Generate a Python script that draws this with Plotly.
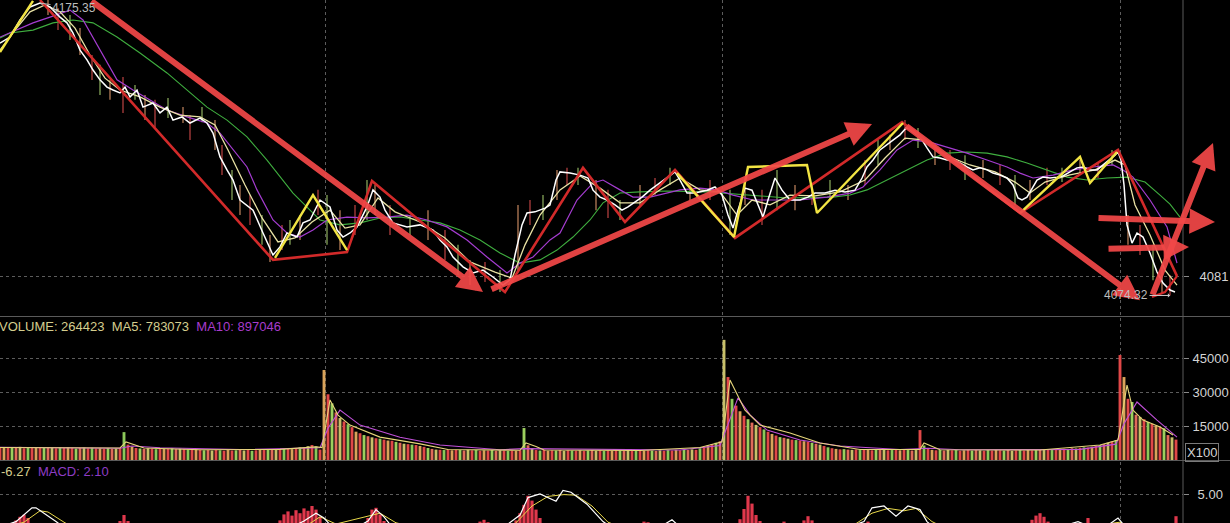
import plotly.graph_objects as go

W, H = 1230, 523
X_END = 1183 / W
X_RANGE = [0, 295.75]
PRICE_DOMAIN = [1 - 316 / H, 1.0]
PRICE_RANGE = [4067.22, 4176.4]
VOL_DOMAIN = [1 - 460 / H, 1 - 318 / H]
VOL_RANGE = [0, 62650]
MACD_DOMAIN = [0, 1 - 462 / H]
MACD_RANGE = [0.167, 10.333]
DAY_BREAKS = [81.25, 180.5, 280]

# ---------------- price (bar index -> price) ----------------
close_t = [0, 2.5, 5, 7.5, 10, 12.5, 15, 16.75, 18.25, 20,
           21.75, 23.25, 25, 26.75, 28.25, 30, 31.25, 32.5, 34.25, 35.75,
           38.25, 40, 41.75, 43.25, 45.5, 47.5, 50, 51.75, 53.25, 55,
           56.75, 58.25, 60, 63.25, 65.75, 68.25, 70, 71.75, 74.25, 75.75,
           77.5, 80, 82.5, 84.25, 85.75, 87.5, 89.25, 91.75, 93.25, 95,
           96.25, 98.25, 101.75, 105, 108.25, 110, 111.75, 113.25, 115.75, 118.25,
           120.75, 123.25, 125.75, 127.5, 128.75, 130.5, 131.75, 133.75, 136.25, 137.5,
           139, 140, 142.5, 145, 147, 148.25, 150, 151.75, 153.75, 155.5,
           157, 158.75, 160.5, 162.5, 165, 167, 168.75, 170, 171.75, 173.75,
           176.75, 178.75, 180.5, 182, 183.25, 184.5, 186.25, 188, 189.5, 190.75,
           192, 193.75, 195.5, 197.5, 200, 202, 203.75, 206.25, 208.75, 211.25,
           213.75, 215.5, 216.75, 218.25, 220, 221.75, 223.25, 225, 226.75, 228.25,
           230, 231.75, 233.25, 235, 236.75, 238.25, 240, 241.75, 243.25, 245,
           246.75, 248.25, 250, 251.75, 253.25, 254.5, 255.5, 256.75, 258, 259.25,
           260.75, 262.5, 264.25, 265.75, 267.5, 269.25, 270.75, 272.5, 274.25, 275.75,
           277.5, 278.75, 279.5, 280.25, 281, 281.75, 283, 284.25, 285.75, 287.5,
           289.25, 290.75, 292.5, 293.75]
close_p = [4161.5, 4163.6, 4169.5, 4174.0, 4175.35, 4174.0, 4170.5, 4168.5, 4165.0, 4159.1,
           4155.7, 4152.2, 4148.8, 4146.3, 4145.3, 4144.3, 4146.3, 4142.9, 4145.3, 4139.4,
           4140.8, 4137.4, 4139.4, 4134.9, 4136.0, 4133.9, 4135.6, 4133.9, 4130.4, 4122.2,
           4117.7, 4114.2, 4107.3, 4103.8, 4095.9, 4088.3, 4091.1, 4095.9, 4094.5, 4099.4,
           4100.4, 4107.3, 4104.9, 4096.9, 4094.5, 4095.9, 4098.0, 4104.9, 4110.8, 4108.3,
           4103.8, 4099.4, 4098.0, 4098.7, 4096.9, 4093.5, 4091.1, 4087.6, 4084.2, 4082.1,
           4083.1, 4080.7, 4077.9, 4079.7, 4088.3, 4098.7, 4102.8, 4103.2, 4104.5, 4105.6,
           4114.2, 4117.0, 4116.6, 4115.9, 4114.9, 4110.7, 4108.3, 4107.3, 4105.6, 4103.8,
           4104.9, 4106.6, 4108.3, 4110.7, 4113.2, 4115.2, 4117.0, 4114.2, 4109.7, 4109.7,
           4110.7, 4111.8, 4109.0, 4102.1, 4097.6, 4103.8, 4111.4, 4110.7, 4105.6, 4101.4,
           4107.3, 4114.9, 4110.7, 4107.3, 4107.3, 4108.3, 4109.7, 4109.7, 4110.7, 4110.1,
           4110.7, 4114.9, 4118.7, 4121.1, 4124.6, 4126.3, 4128.0, 4129.8, 4132.5, 4130.8,
           4129.1, 4125.3, 4122.2, 4121.8, 4121.1, 4121.1, 4120.1, 4118.7, 4117.7, 4118.4,
           4117.7, 4116.6, 4115.9, 4114.9, 4112.5, 4108.0, 4107.3, 4108.3, 4111.4, 4114.2,
           4115.2, 4114.9, 4115.2, 4115.6, 4117.0, 4118.4, 4118.7, 4117.7, 4117.7, 4119.4,
           4121.1, 4122.8, 4123.9, 4121.1, 4112.5, 4098.7, 4092.4, 4095.9, 4094.5, 4089.0,
           4082.4, 4078.6, 4076.2, 4075.5]

# high / low wicks of selected bars
wick_t = [12, 14.5, 17.5, 20, 23, 25, 27.5, 30.75, 33.75, 36.25,
          38.75, 42, 45.75, 47.5, 50.5, 53.75, 55.5, 58, 60, 62.5,
          65.5, 67.5, 70.5, 72.5, 75, 79.5, 81.75, 85, 88.75, 91.75,
          93.75, 97.5, 102.5, 107, 111.25, 114.5, 117.5, 121.25, 125, 129.5,
          132.5, 135.75, 139.25, 141.75, 144.5, 149, 152, 155, 160, 163.75,
          167.5, 172.5, 177.5, 182.5, 186.25, 190.5, 194.25, 198.75, 203, 207.5,
          212, 216.25, 219.5, 222.5, 226.25, 229.5, 233.75, 237.5, 241.25, 245.75,
          250, 253.75, 257.5, 261.75, 265.5, 270, 274.5, 278, 282, 285,
          288.25, 290.5, 292.5]
wick_high = [4176.4, 4173.6, 4171.2, 4166.7, 4157.4, 4154.0, 4148.8, 4149.8, 4147.0, 4143.6,
             4141.9, 4142.5, 4139.4, 4136.6, 4139.4, 4134.9, 4126.3, 4117.7, 4112.5, 4109.0,
             4102.1, 4095.2, 4098.7, 4100.4, 4102.1, 4110.8, 4109.0, 4103.8, 4105.6, 4114.2,
             4112.5, 4105.6, 4102.1, 4103.8, 4096.9, 4091.8, 4086.6, 4085.9, 4083.1, 4105.6,
             4107.3, 4109.0, 4117.7, 4118.4, 4118.4, 4114.2, 4110.8, 4107.3, 4112.5, 4114.9,
             4118.4, 4112.5, 4114.2, 4110.8, 4114.2, 4110.8, 4117.7, 4112.5, 4112.5, 4114.2,
             4112.5, 4121.1, 4128.0, 4129.8, 4134.9, 4132.2, 4126.3, 4124.6, 4122.8, 4121.1,
             4119.4, 4115.9, 4114.2, 4118.4, 4118.4, 4121.1, 4120.4, 4124.6, 4102.1, 4098.7,
             4091.8, 4084.9, 4081.4]
wick_low = [4171.2, 4166.0, 4162.6, 4157.4, 4148.8, 4143.6, 4141.9, 4137.4, 4141.9, 4134.9,
            4132.5, 4135.6, 4133.9, 4128.0, 4134.2, 4124.6, 4115.9, 4107.3, 4102.1, 4098.7,
            4091.8, 4085.9, 4090.0, 4091.8, 4093.5, 4102.1, 4091.8, 4090.0, 4095.2, 4100.4,
            4102.1, 4095.2, 4095.2, 4093.5, 4086.6, 4081.4, 4077.9, 4079.0, 4075.5, 4083.1,
            4098.7, 4100.4, 4107.3, 4112.5, 4112.5, 4103.8, 4101.1, 4100.4, 4105.6, 4109.0,
            4112.5, 4107.3, 4107.3, 4095.2, 4105.6, 4098.7, 4103.8, 4103.8, 4105.6, 4107.3,
            4107.3, 4112.5, 4119.4, 4124.6, 4128.0, 4125.3, 4119.4, 4117.7, 4114.2, 4114.9,
            4112.5, 4105.6, 4107.3, 4112.5, 4113.5, 4115.9, 4114.9, 4119.4, 4091.8, 4088.3,
            4079.6, 4075.2, 4074.32]

# moving averages on price
ma5_t = [0, 3.75, 7.5, 11.25, 15, 18.75, 22.5, 26.25, 30, 35, 40, 45, 50, 53.75, 57, 61.25,
         65.5, 69.5, 73.75, 78, 82.5, 86.25, 90, 94.5, 98.75, 105, 111.25, 117.5, 123.75, 128,
         131.25, 135, 140, 145, 150, 155, 160, 165, 170, 175, 180, 184.25, 188, 192.5, 197.5,
         203.75, 210, 216.25, 221.25, 226.25, 231.25, 236.25, 242.5, 248.75, 253.75, 257.5,
         261.25, 267.5, 273.75, 278.75, 281.25, 283.75, 287.5, 291.25, 294.25]
ma5_p = [4159.1, 4166.0, 4172.3, 4174.7, 4172.3, 4166.7, 4157.4, 4149.4, 4145.3, 4142.9,
         4139.4, 4136.6, 4136.0, 4133.2, 4124.6, 4112.5, 4101.1, 4092.8, 4094.2, 4099.7,
         4103.8, 4097.6, 4098.7, 4108.0, 4103.2, 4099.7, 4094.2, 4085.9, 4082.4, 4080.3,
         4091.8, 4102.1, 4110.8, 4115.6, 4111.4, 4106.3, 4106.3, 4110.8, 4114.9, 4110.8,
         4110.1, 4102.1, 4107.3, 4105.6, 4109.0, 4108.7, 4110.1, 4114.2, 4121.8, 4128.7,
         4128.0, 4122.8, 4119.4, 4117.0, 4113.5, 4109.7, 4113.5, 4116.0, 4117.7, 4121.1,
         4119.4, 4105.6, 4095.2, 4083.1, 4077.9]

ma20_t = [0, 8.25, 12.5, 17.5, 20.75, 25, 29.25, 33.25, 37.5, 41.75, 46.75, 51.75, 55, 58.25,
          61.75, 64.25, 68.25, 71.75, 75, 78.25, 81.75, 86.75, 91.75, 96.75, 101.75, 106.75,
          111.75, 116.75, 121.75, 126.75, 130, 133.25, 137.5, 140, 144.25, 148.25, 150.75, 155,
          158.25, 162.5, 166.75, 170, 175, 179.25, 183.25, 188.25, 193.25, 200, 206.75, 212.5,
          215.75, 220, 224.25, 228.25, 232.5, 236.75, 241.75, 246.75, 251.75, 255, 258.25,
          263.25, 268.25, 273.25, 278.25, 280.75, 283.25, 287.5, 291.75, 294.25]
ma20_p = [4163.6, 4168.5, 4170.5, 4172.9, 4169.5, 4159.1, 4148.8, 4145.3, 4141.9, 4138.4,
          4136.0, 4133.9, 4130.4, 4124.6, 4118.7, 4110.8, 4100.4, 4095.9, 4094.5, 4096.9,
          4100.4, 4101.4, 4101.1, 4101.4, 4102.1, 4100.4, 4098.0, 4093.5, 4087.6, 4082.1,
          4085.5, 4087.6, 4093.5, 4095.9, 4107.3, 4113.2, 4114.2, 4110.8, 4108.3, 4108.3,
          4109.7, 4110.8, 4111.4, 4110.8, 4109.0, 4107.3, 4107.3, 4107.3, 4108.3, 4109.7,
          4111.8, 4117.7, 4124.6, 4128.0, 4127.3, 4125.6, 4123.5, 4121.1, 4118.7, 4116.6,
          4114.9, 4115.9, 4117.7, 4118.7, 4119.4, 4117.7, 4115.2, 4107.3, 4098.0, 4085.5]

ma60_t = [0, 2.5, 8.25, 13.25, 18.25, 23.25, 29.25, 35, 41.75, 46.75, 51.75, 56.75, 61.75,
          66.75, 73.25, 77.5, 80, 85, 90, 95, 100, 105, 110, 115, 120, 125, 130, 135, 139.25,
          143.25, 147.5, 150.75, 155, 160, 166.75, 176.75, 186.75, 196.75, 208.25, 212.5,
          216.75, 221.75, 226.75, 231.75, 236.75, 241.75, 246.75, 251.75, 256.75, 261.75,
          266.75, 271.75, 276.75, 281.75, 286.25, 290, 292.5, 295]
ma60_p = [4163.3, 4165.0, 4166.0, 4168.5, 4169.5, 4168.5, 4163.6, 4158.1, 4151.2, 4145.3,
          4139.4, 4134.9, 4129.1, 4121.1, 4109.7, 4103.8, 4100.4, 4098.7, 4099.4, 4101.1,
          4101.4, 4100.4, 4099.4, 4096.9, 4093.5, 4089.0, 4085.5, 4086.6, 4090.0, 4094.5,
          4100.4, 4106.3, 4109.7, 4110.1, 4110.4, 4110.1, 4109.0, 4108.0, 4108.3, 4109.0,
          4110.8, 4114.2, 4117.7, 4121.1, 4123.5, 4123.9, 4123.5, 4122.2, 4120.1, 4117.7,
          4115.2, 4114.2, 4114.9, 4115.2, 4113.5, 4109.0, 4105.9, 4101.4]

# hand-drawn analysis lines (price coordinates)
red_zigzag_t = [10, 68.25, 86.75, 93, 126.25, 145.75, 156.25, 168.75, 183.75, 225.5, 255, 279.5, 294.25]
red_zigzag_p = [4176.4, 4086.6, 4089.3, 4113.9, 4075.5, 4118.4, 4099.7, 4117.7, 4094.2, 4134.2, 4102.8, 4124.6, 4081.0]
red_base_t = [288, 291.25, 294.25]
red_base_p = [4073.8, 4075.5, 4081.0]
yellow_lines = [
    ([0, 8.25], [4158.4, 4176.1]),
    ([68.75, 78.25, 86.75], [4087.3, 4109.0, 4090.0]),
    ([169.25, 183.5, 187, 201.75, 204.25, 225.75], [4116.6, 4094.5, 4118.7, 4119.4, 4102.8, 4133.9]),
    ([255, 270, 272.5, 279.25], [4102.8, 4122.2, 4113.2, 4123.9]),
]
# thick arrows: (tail_t, tail_p, tip_t, tip_p)
thick_arrows = [
    (22.5, 4176.4, 120.75, 4075.5),
    (122.5, 4076.2, 218, 4133.6),
    (226.25, 4133.2, 285, 4072.7),
    (288, 4074.1, 303.25, 4127.0),
    (274.25, 4101.1, 303.75, 4099.7),
    (276.75, 4090.4, 297.25, 4091.1),
]
price_high = (10, 4175.35)
price_low = (292.5, 4074.32)

# ---------------- volume (x100) ----------------
volume = [5600, 5400, 5700, 5300, 5500, 5800, 5200, 5600, 5400, 5500, 5700, 5300, 5600, 5400, 5200,
          5500, 5300, 5600, 5400, 5100, 5300, 5500, 5200, 5400, 5100,
          5200, 5000, 5300, 4900, 5100, 5200, 12300, 6800, 5900, 5300, 5100, 4900, 5200, 5000, 4800,
          5100, 4900, 5000, 5200, 4800, 5000, 4900, 4700, 5000, 4800,
          4500, 4300, 4400, 4200, 4500, 4300, 4100, 4400, 4200, 4300, 4500, 4200, 4400, 4100, 4300,
          4500, 4400, 4600, 4500, 4700, 4600, 4900, 5100, 4800, 5300, 5600, 5400, 6100, 6600, 6000,
          4600, 39700, 29000, 25000, 21000, 18500, 17000, 15800, 14500, 12500, 11800, 11000, 10500,
          10000, 9600, 9400, 9000, 8600, 8500, 8000, 7600, 7200, 7000, 6800, 6600,
          6200, 5800, 5300, 4900, 4600, 4500, 4400, 4600, 4300, 4500, 4400, 4200, 4500, 4300, 4400,
          4100, 4300, 4200, 4400, 4100, 4300, 4200, 4000, 4200, 4100,
          4300, 14100, 6500, 5200,
          4400, 4200, 4500, 4100, 4300, 4200, 4400, 4000, 4300, 4200, 4100, 4300, 4000, 4200, 4400,
          4100, 4300, 4000, 4200, 4100, 4300, 4200, 4000, 4300, 4100, 4200, 4400, 4100, 4300, 4200,
          4000, 4300, 4100, 4400, 4200, 4500, 4300, 4600, 4400, 4700, 4500,
          5200, 5800, 6400, 7000, 7600, 8200,
          53000, 36600, 27000, 24000, 21500, 19500, 18000, 16500, 15500, 14500, 13500, 12500, 11500,
          10800, 10100, 9800, 9400, 9000, 8800, 8600, 8300, 8000, 7600, 7200,
          6800, 6200, 5600, 5200, 4900, 4700, 4800, 4600, 4500, 4700, 4400, 4600, 4500, 4300, 4600,
          4400, 4500, 4300, 4400, 4600, 4300, 4500, 4400, 4200, 4400,
          13200, 6400, 5000,
          4500, 4300, 4400, 4200, 4500, 4300, 4400, 4100, 4300, 4500, 4200, 4400, 4300, 4100, 4400,
          4200, 4500, 4300, 4200, 4400, 4100, 4300, 4400, 4200, 4500, 4300, 4400, 4600, 4500, 4700,
          4600, 4800, 4700, 5000, 4900, 5200, 5100, 5400, 5600, 5500, 5900, 6200,
          6600, 7000, 7600, 8200, 8800,
          46300, 36600, 27000, 25600, 20000, 19000, 18000, 16800, 16000, 15200, 14600, 14000, 11000,
          10000, 9000]
vol_ma5_t = [0, 25, 30, 31.5, 33, 36, 50, 70, 79, 80.5, 82.5, 84.5, 87.5, 95, 105, 112, 130,
             131.5, 134, 136, 160, 175, 180.5, 182.5, 186.25, 190, 197.5, 205, 215, 230, 231,
             233, 235, 260, 275, 279.5, 281.75, 283.25, 285.75, 290, 293.25]
vol_ma5 = [5500, 5200, 5300, 8000, 7000, 5300, 4500, 4700, 5800, 5500, 26500, 19800, 15400,
           10100, 7100, 4600, 4300, 7500, 6000, 4400, 4200, 5500, 8000, 35300, 22000, 15400,
           11900, 7500, 4600, 4700, 7500, 6000, 4500, 4400, 6600, 8800, 33000, 22000, 17600,
           14600, 11000]
vol_ma10_t = [0, 30, 33, 40, 60, 80, 82, 85, 90, 100, 110, 125, 131, 140, 170, 180, 182, 184.5,
              187.5, 191.75, 200, 210, 225, 232, 240, 270, 279, 281, 284.25, 289.25, 294.25]
vol_ma10 = [5600, 5200, 6200, 5400, 4600, 5400, 14000, 22000, 15400, 10000, 6600, 4500, 5000,
            4800, 4400, 6400, 16000, 27400, 19900, 13200, 8800, 6200, 4600, 5200, 4500, 4700,
            7000, 16000, 25600, 17600, 10100]

# ---------------- MACD ----------------
hist_t = [4, 5, 6, 7, 30, 31, 32, 70, 71, 72, 73, 74, 75, 76, 77, 78, 79, 80,
          92, 93, 94, 95, 96, 120, 121, 122, 129, 130, 131, 132, 133, 134, 135, 161, 162,
          185, 186, 187, 188, 189, 190, 196, 201, 202, 203, 217, 258, 259, 260, 261, 262, 272, 294]
hist_v = [0.6, 1.2, 1.55, 1.0, 0.5, 1.5, 0.5, 0.6, 1.6, 2.1, 1.4, 2.3, 1.8, 2.6, 2.2, 3.0, 2.4, 1.2,
          1.0, 2.4, 2.7, 1.6, 0.5, 0.4, 0.7, 0.3, 0.6, 1.8, 3.2, 4.7, 3.9, 2.4, 1.0, 0.4, 0.3,
          0.8, 2.5, 4.7, 3.4, 1.5, 0.5, 0.4, 0.6, 1.3, 0.6, 0.4, 0.7, 1.4, 1.8, 1.2, 0.4, 1.0, 1.3]
dif_t = [0, 4, 8, 9, 14, 18, 40, 70, 76, 79, 81, 83, 88, 92, 94, 96, 98, 110, 125, 130, 132, 135,
         139, 140.75, 142.75, 146.75, 150.75, 155, 165, 168, 170, 180, 195, 210, 216, 218, 221,
         224, 227, 230, 231.75, 235, 250, 262, 266, 269.5, 272, 277, 279.5, 282, 288, 294]
dif_v = [-0.5, 0.4, 2.7, 2.7, 0.4, -1.5, -3, -1.5, 0.5, 1.8, 1.0, -0.5, -1.0, 0.5, 2.4, 1.2, -0.5,
         -2, -1, 1.5, 4.4, 5.0, 3.8, 5.6, 5.3, 3.3, 0.4, -1.5, -0.5, 0.7, -0.5, -3, -2, -1, 0.4,
         2.7, 3.0, 1.3, 3.0, 2.4, 0.4, -1.5, -3, -1, -0.3, 0.4, -0.3, -0.2, 1.0, -1, -4, -6]
dea_t = [0, 6, 10, 12, 16, 20, 45, 75, 80, 84, 95, 99, 112, 128, 133, 137, 141, 144, 148, 152,
         158, 170, 185, 212, 218, 222, 226, 229, 233, 238, 255, 270, 280, 285, 294]
dea_v = [-0.8, 0.3, 2.2, 2.0, 0.3, -1.2, -2.8, -1, 1.2, 0, 1.8, 0.2, -1.8, -0.5, 3.0, 4.6, 4.9,
         4.8, 3.0, 0.3, -1.2, -0.5, -2.5, -0.8, 1.8, 2.6, 2.2, 2.6, 0.4, -1.2, -2.5, -0.6, 0.3,
         -1.5, -4]

# ---------------- styling ----------------
BG = "#000000"
GRID = "#5c5c5c"
TICKFONT = dict(family="Liberation Sans, Arial, sans-serif", size=13, color="#d4d4d4")
VOL_COLORS = ["#e04848", "#d9a35a", "#e04848", "#9ccf5e", "#e06a5a", "#c8c06a", "#e04848", "#8cc85a"]
WICK_COLORS = ["#e8a070", "#e05050", "#a8d070"]

fig = go.Figure()

def line(x, y, color, width, xa="x", ya="y", dash=None, opacity=1.0):
    fig.add_trace(go.Scatter(x=x, y=y, mode="lines", xaxis=xa, yaxis=ya, opacity=opacity,
                             line=dict(color=color, width=width, dash=dash),
                             hoverinfo="skip", showlegend=False))

# wicks
for k, col in enumerate(WICK_COLORS):
    xs, ys = [], []
    for i, (t, hi, lo) in enumerate(zip(wick_t, wick_high, wick_low)):
        if i % len(WICK_COLORS) == k:
            xs += [t, t, None]
            ys += [lo, hi, None]
    line(xs, ys, col, 1.2, opacity=0.85)

line(ma60_t, ma60_p, "#3fae3f", 1.1)
line(ma20_t, ma20_p, "#a43cd0", 1.2)
line(ma5_t, ma5_p, "#e9e2a4", 1.3)
line(close_t, close_p, "#ffffff", 1.5)

# drawings
line(red_zigzag_t, red_zigzag_p, "#d22a2a", 2.6)
line(red_base_t, red_base_p, "#d22a2a", 2.2)
for xs, ys in yellow_lines:
    line(xs, ys, "#f2e443", 2.4)

# volume
fig.add_trace(go.Bar(x=list(range(len(volume))), y=volume, xaxis="x2", yaxis="y2",
                     width=0.72, marker=dict(color=[VOL_COLORS[i % len(VOL_COLORS)] for i in range(len(volume))],
                                             line=dict(width=0)),
                     hoverinfo="skip", showlegend=False))
line(vol_ma10_t, vol_ma10, "#c050d8", 1.1, "x2", "y2")
line(vol_ma5_t, vol_ma5, "#e6d67a", 1.1, "x2", "y2")

# MACD
fig.add_trace(go.Bar(x=hist_t, y=hist_v, xaxis="x3", yaxis="y3", width=0.8,
                     marker=dict(color="#e0384c", line=dict(width=0)),
                     hoverinfo="skip", showlegend=False))
line(dea_t, dea_v, "#e8d84a", 1.0, "x3", "y3")
line(dif_t, dif_v, "#ffffff", 1.2, "x3", "y3")


def to_paper(t, p):
    xp = (t - X_RANGE[0]) / (X_RANGE[1] - X_RANGE[0]) * X_END
    yp = PRICE_DOMAIN[0] + (p - PRICE_RANGE[0]) / (PRICE_RANGE[1] - PRICE_RANGE[0]) * (PRICE_DOMAIN[1] - PRICE_DOMAIN[0])
    return xp, yp

annotations = []
for tt, tp, ht, hp in thick_arrows:
    x0, y0 = to_paper(tt, tp)
    x1, y1 = to_paper(ht, hp)
    annotations.append(dict(xref="paper", yref="paper", x=x1, y=y1, ax=(x0 - x1) * W, ay=-(y0 - y1) * H,
                            text="", showarrow=True, arrowhead=2, arrowsize=0.85, arrowwidth=6,
                            arrowcolor="rgba(242,72,72,0.93)"))

annotations.append(dict(xref="x", yref="y", x=price_high[0], y=price_high[1], ax=34, ay=5,
                        text=f"{price_high[1]:.2f}", showarrow=True, arrowhead=0, arrowwidth=1,
                        arrowcolor="#bdbdbd", font=dict(family="Liberation Sans, Arial", size=12, color="#bdbdbd")))
annotations.append(dict(xref="x", yref="y", x=price_low[0], y=price_low[1], ax=-44, ay=0,
                        text=f"{price_low[1]:.2f}", showarrow=True, arrowhead=1, arrowsize=0.7, arrowwidth=1,
                        arrowcolor="#d0d0d0", font=dict(family="Liberation Sans, Arial", size=12, color="#bdbdbd")))

annotations.append(dict(xref="paper", yref="paper", x=-3 / W, y=1 - 326 / H, xanchor="left", yanchor="middle",
                        showarrow=False,
                        text="<span style='color:#d4cd8e'>VOLUME: 264423\u00a0\u00a0MA5: 783073</span>"
                             "\u00a0\u00a0<span style='color:#a83ccc'>MA10: 897046</span>",
                        font=dict(family="Liberation Sans, Arial", size=13)))
annotations.append(dict(xref="paper", yref="paper", x=-1 / W, y=1 - 471 / H, xanchor="left", yanchor="middle",
                        showarrow=False,
                        text="<span style='color:#d4cd8e'>-6.27</span>\u00a0\u00a0<span style='color:#8e3cc4'>MACD: 2.10</span>",
                        font=dict(family="Liberation Sans, Arial", size=13)))
annotations.append(dict(xref="paper", yref="paper", x=1201.5 / W, y=1 - 452 / H, xanchor="center", yanchor="middle",
                        showarrow=False, text="X100", bordercolor="#7a7a7a", borderwidth=1, borderpad=1,
                        font=dict(family="Liberation Sans, Arial", size=13, color="#d4d4d4")))

xa_common = dict(range=X_RANGE, domain=[0, X_END], showticklabels=False, tickmode="array",
                 tickvals=DAY_BREAKS, ticks="", showgrid=True, gridcolor=GRID, griddash="dot",
                 gridwidth=1, zeroline=False, showline=False, fixedrange=True)
ya_common = dict(side="right", showgrid=True, gridcolor=GRID, griddash="dot", gridwidth=1,
                 zeroline=False, showline=False, ticks="outside", ticklen=5, tickcolor="#8a8a8a",
                 tickfont=TICKFONT, fixedrange=True)

fig.update_layout(
    width=W, height=H, margin=dict(l=0, r=0, t=0, b=0, autoexpand=False),
    paper_bgcolor=BG, plot_bgcolor=BG, showlegend=False, hovermode=False,
    xaxis=dict(**xa_common, anchor="y"),
    xaxis2=dict(**xa_common, anchor="y2", matches="x"),
    xaxis3=dict(**xa_common, anchor="y3", matches="x"),
    yaxis=dict(**ya_common, domain=PRICE_DOMAIN, range=PRICE_RANGE, anchor="x",
               tickvals=[4081], ticktext=["4081"], ticklabelstandoff=8),
    yaxis2=dict(**ya_common, domain=VOL_DOMAIN, range=VOL_RANGE, anchor="x2",
                tickvals=[15000, 30000, 45000], ticktext=["15000", "30000", "45000"], ticklabelstandoff=1),
    yaxis3=dict(**ya_common, domain=MACD_DOMAIN, range=MACD_RANGE, anchor="x3",
                tickvals=[5], ticktext=["5.00"], ticklabelstandoff=6),
    annotations=annotations,
    shapes=[
        dict(type="line", xref="paper", yref="paper", x0=0, x1=1, y0=1 - 316.5 / H, y1=1 - 316.5 / H,
             line=dict(color="#5a5a5a", width=1)),
        dict(type="line", xref="paper", yref="paper", x0=0, x1=1, y0=1 - 460.5 / H, y1=1 - 460.5 / H,
             line=dict(color="#5a5a5a", width=1)),
        dict(type="line", xref="paper", yref="paper", x0=X_END, x1=X_END, y0=0, y1=1,
             line=dict(color="#5a5a5a", width=1)),
    ],
)

fig.write_html("out.html", config={"displayModeBar": False, "staticPlot": True},
               post_script="document.body.style.margin='0px';document.body.style.overflow='hidden';"
                           "document.body.style.background='#000';")
